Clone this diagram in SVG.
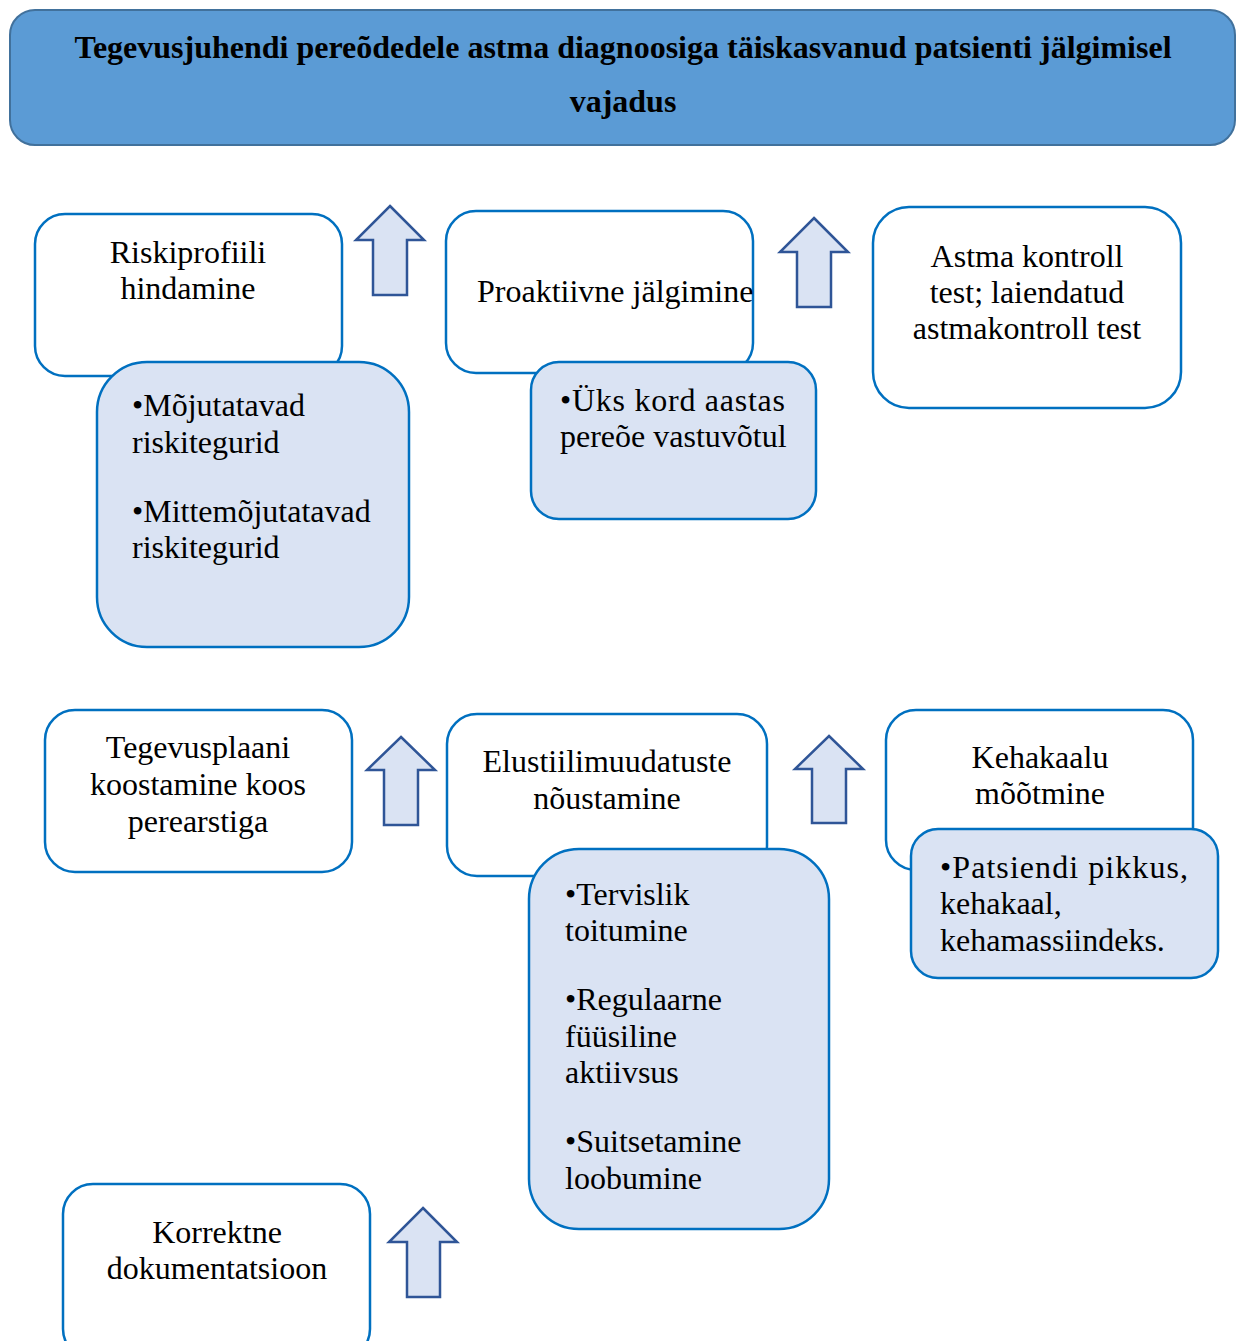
<svg xmlns="http://www.w3.org/2000/svg" width="1236" height="1341" viewBox="0 0 1236 1341">
<style>
.wbox{fill:#FFFFFF;stroke:#0070C0;stroke-width:2.5}
.bbox{fill:#DAE3F3;stroke:#0070C0;stroke-width:2.5}
.arrow{fill:#DAE3F3;stroke:#2F5597;stroke-width:2.5;stroke-linejoin:miter}
.t{font-family:"Liberation Serif","Times New Roman",serif;font-size:32px;fill:#000}
.c{text-anchor:middle}
.h{font-family:"Liberation Serif","Times New Roman",serif;font-size:32px;font-weight:bold;fill:#000;text-anchor:middle}
</style>
<rect width="1236" height="1341" fill="#FFFFFF"/>
<g id="header">
<rect x="10" y="10" width="1225" height="135" rx="25" fill="#5B9BD5" stroke="#41719C" stroke-width="2"/>
<text class="h" x="623" y="58">Tegevusjuhendi pereõdedele astma diagnoosiga täiskasvanud patsienti jälgimisel</text>
<text class="h" x="623" y="112">vajadus</text>
</g>
<g id="connectors">
<polygon class="arrow" points="390,206 424,240 407,240 407,295 373,295 373,240 356,240"/>
<polygon class="arrow" points="814,218 848,252 831,252 831,307 797,307 797,252 780,252"/>
<polygon class="arrow" points="401,737 435,770 418,770 418,825 384,825 384,770 367,770"/>
<polygon class="arrow" points="829,736 863,769 846,769 846,823 812,823 812,769 795,769"/>
<polygon class="arrow" points="423,1208 457,1242 440,1242 440,1297 407,1297 407,1242 389,1242"/>
</g>
<g id="riskiprofiil">
<rect class="wbox" x="35" y="214" width="307" height="162" rx="30"/>
<text class="t c" x="188" y="263">Riskiprofiili</text>
<text class="t c" x="188" y="299">hindamine</text>
</g>
<g id="riskitegurid">
<rect class="bbox" x="97" y="362" width="312" height="285" rx="50"/>
<text class="t" x="132" y="416">•Mõjutatavad</text>
<text class="t" x="132" y="453">riskitegurid</text>
<text class="t" x="132" y="522">•Mittemõjutatavad</text>
<text class="t" x="132" y="558">riskitegurid</text>
</g>
<g id="proaktiivne">
<rect class="wbox" x="446" y="211" width="307" height="162" rx="30"/>
<text class="t" x="477" y="302">Proaktiivne jälgimine</text>
</g>
<g id="kord-aastas">
<rect class="bbox" x="531" y="362" width="285" height="157" rx="28"/>
<text class="t" x="560" y="411" textLength="225" lengthAdjust="spacing">•Üks kord aastas</text>
<text class="t" x="560" y="447">pereõe vastuvõtul</text>
</g>
<g id="astma-kontroll">
<rect class="wbox" x="873" y="207" width="308" height="201" rx="36"/>
<text class="t c" x="1027" y="267">Astma kontroll</text>
<text class="t c" x="1027" y="303">test; laiendatud</text>
<text class="t c" x="1027" y="339">astmakontroll test</text>
</g>
<g id="tegevusplaan">
<rect class="wbox" x="45" y="710" width="307" height="162" rx="30"/>
<text class="t c" x="198" y="758">Tegevusplaani</text>
<text class="t c" x="198" y="795">koostamine koos</text>
<text class="t c" x="198" y="832">perearstiga</text>
</g>
<g id="elustiil">
<rect class="wbox" x="447" y="714" width="320" height="162" rx="30"/>
<text class="t c" x="607" y="772">Elustiilimuudatuste</text>
<text class="t c" x="607" y="809">nõustamine</text>
</g>
<g id="elustiil-punktid">
<rect class="bbox" x="529" y="849" width="300" height="380" rx="50"/>
<text class="t" x="565" y="905">•Tervislik</text>
<text class="t" x="565" y="941">toitumine</text>
<text class="t" x="565" y="1010">•Regulaarne</text>
<text class="t" x="565" y="1047">füüsiline</text>
<text class="t" x="565" y="1083">aktiivsus</text>
<text class="t" x="565" y="1152">•Suitsetamine</text>
<text class="t" x="565" y="1189">loobumine</text>
</g>
<g id="kehakaal">
<rect class="wbox" x="886" y="710" width="307" height="160" rx="30"/>
<text class="t c" x="1040" y="768">Kehakaalu</text>
<text class="t c" x="1040" y="804">mõõtmine</text>
</g>
<g id="kehakaal-punktid">
<rect class="bbox" x="911" y="829" width="307" height="149" rx="27"/>
<text class="t" x="940" y="878" textLength="248" lengthAdjust="spacing">•Patsiendi pikkus,</text>
<text class="t" x="940" y="914">kehakaal,</text>
<text class="t" x="940" y="951">kehamassiindeks.</text>
</g>
<g id="dokumentatsioon">
<rect class="wbox" x="63" y="1184" width="307" height="175" rx="30"/>
<text class="t c" x="217" y="1243">Korrektne</text>
<text class="t c" x="217" y="1279">dokumentatsioon</text>
</g>
</svg>
